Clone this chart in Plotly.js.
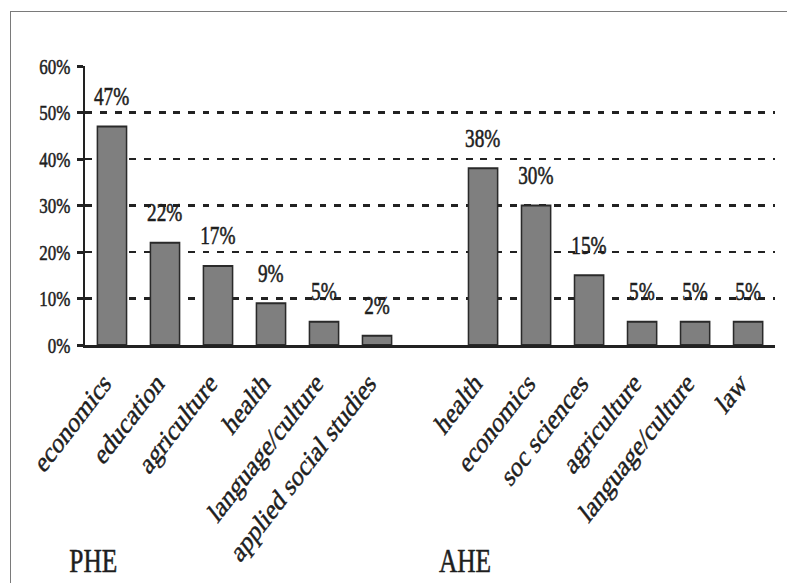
<!DOCTYPE html>
<html>
<head>
<meta charset="utf-8">
<script src="https://cdn.plot.ly/plotly-3.0.1.min.js"></script>
<style>
  html, body { margin: 0; padding: 0; background: #ffffff; overflow: hidden; width: 787px; height: 583px; }
  #wrap { position: absolute; left: 0; top: 0; width: 1022px; height: 583px; transform: scaleX(0.77); transform-origin: 0 0; }
  #frame { position: absolute; left: 10px; top: 11px; width: 820px; height: 620px; border: 1.5px solid #7a7a7a; pointer-events: none; }
  #chart svg text { stroke: #1e1e1e; stroke-width: 0.55px; }
</style>
</head>
<body>
<div id="wrap"><div id="chart" style="width:1022px;height:583px;"></div></div>
<div id="frame"></div>
<script>
// PHE group
const pheCats = ["economics", "education", "agriculture", "health", "language/culture", "applied social studies"];
const pheVals = [47, 22, 17, 9, 5, 2];
// AHE group
const aheCats = ["health", "economics", "soc sciences", "agriculture", "language/culture", "law"];
const aheVals = [38, 30, 15, 5, 5, 5];
const groupNames = ["PHE", "AHE"];
const yTickVals = [0, 10, 20, 30, 40, 50, 60];
const yTickText = ["0%", "10%", "20%", "30%", "40%", "50%", "60%"];

const FONT = "Liberation Serif, Times New Roman, serif";
const TXT = "#1e1e1e";

// positions: PHE slots 0..5, one empty slot, AHE slots after it
const pheX = pheCats.map((c, i) => i);
const aheX = aheCats.map((c, i) => pheCats.length + 1 + i);
const allX = pheX.concat(aheX);
const allY = pheVals.concat(aheVals);
const allCats = pheCats.concat(aheCats);

const trace = {
  type: "bar",
  x: allX,
  y: allY,
  marker: { color: "#7f7f7f", line: { color: "#2a2a2a", width: 2 } },
  hoverinfo: "skip"
};

const annotations = allX.map((x, i) => ({
  x: x, y: allY[i], xref: "x", yref: "y",
  text: allY[i] + "%", showarrow: false,
  yanchor: "middle", xanchor: "center", yshift: 30,
  font: { family: FONT, size: 25, color: TXT }
}));

annotations.push({
  xref: "paper", yref: "paper", x: 0.011, y: -0.774,
  text: groupNames[0], showarrow: false, xanchor: "center", yanchor: "middle",
  font: { family: FONT, size: 33, color: TXT }
});
annotations.push({
  xref: "paper", yref: "paper", x: 0.551, y: -0.774,
  text: groupNames[1], showarrow: false, xanchor: "center", yanchor: "middle",
  font: { family: FONT, size: 33, color: TXT }
});

const layout = {
  width: 1022, height: 583,
  margin: { l: 111, r: 16, t: 66, b: 238 },
  paper_bgcolor: "#ffffff", plot_bgcolor: "#ffffff",
  showlegend: false,
  bargap: 0.45,
  font: { family: FONT, color: TXT },
  xaxis: {
    range: [-0.5, 12.5],
    tickmode: "array", tickvals: allX, ticktext: allCats,
    tickangle: -45,
    ticks: "", showgrid: false, zeroline: false,
    showline: true, linecolor: "#222", linewidth: 3,
    tickfont: { family: FONT, size: 29.5, color: TXT },
    ticklabelstandoff: 6,
    ticklabelshift: -10,
    fixedrange: true
  },
  yaxis: {
    range: [0, 60],
    tickmode: "array", tickvals: yTickVals, ticktext: yTickText,
    ticks: "outside", ticklen: 8, tickwidth: 3, tickcolor: "#222",
    showline: true, linecolor: "#222", linewidth: 3.3,
    showgrid: true, gridcolor: "#222", gridwidth: 2.5, griddash: "9px,10px",
    zeroline: false,
    tickfont: { family: FONT, size: 22, color: TXT },
    ticklabelstandoff: 4,
    fixedrange: true
  },
  annotations: annotations
};

Plotly.newPlot("chart", [trace], layout, { staticPlot: true, displayModeBar: false });
</script>
</body>
</html>
